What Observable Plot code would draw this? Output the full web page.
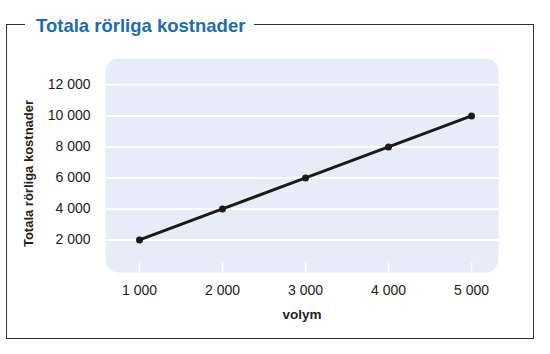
<!DOCTYPE html>
<html>
<head>
<meta charset="utf-8">
<script src="https://cdn.jsdelivr.net/npm/d3@7"></script>
<script src="https://cdn.jsdelivr.net/npm/@observablehq/plot@0.6"></script>
<style>
  html, body { margin: 0; padding: 0; background: #fff; }
  #wrap { position: relative; width: 550px; height: 354px; font-family: "Liberation Sans", Arial, sans-serif; }
  #frame { position: absolute; left: 6px; top: 24px; width: 528px; height: 315px; border: 1.5px solid #333; box-sizing: border-box; }
  #title { position: absolute; left: 25px; top: 15px; padding: 0 9px 0 11px; background: #fff; color: #1b6db3; font-weight: bold; font-size: 18.5px; line-height: 22px; }
  #chart { position: absolute; left: 0; top: 0; }
</style>
</head>
<body>
<div id="wrap">
  <div id="frame"></div>
  <div id="title">Totala rörliga kostnader</div>
  <div id="chart"></div>
</div>
<script>
const volym = [1000, 2000, 3000, 4000, 5000];
const kostnader = [2000, 4000, 6000, 8000, 10000];
const xTicks = [1000, 2000, 3000, 4000, 5000];
const yTicks = [2000, 4000, 6000, 8000, 10000, 12000];

const data = volym.map((v, i) => ({volym: v, kostnad: kostnader[i]}));
const fmt = d => d3.format(",")(d).replace(/,/g, " ");

const chart = Plot.plot({
  width: 550,
  height: 354,
  marginTop: 58,
  marginBottom: 82,
  marginLeft: 105,
  marginRight: 52,
  style: {fontFamily: "Liberation Sans, Arial, sans-serif", fontSize: "14px", color: "#222", background: "transparent"},
  x: {domain: [590, 5325]},
  y: {domain: [-100, 13700]},
  marks: [
    Plot.frame({fill: "#e8ebf8", stroke: null, rx: 13}),
    Plot.ruleY(yTicks, {stroke: "white", strokeWidth: 2}),
    Plot.ruleX(xTicks, {y1: -100, y2: 500, stroke: "white", strokeWidth: 1.5}),
    Plot.axisY(yTicks, {tickSize: 0, tickPadding: 15, tickFormat: fmt, label: null, fontSize: 14}),
    Plot.axisX(xTicks, {tickSize: 0, tickPadding: 13, tickFormat: fmt, label: null, fontSize: 14}),
    Plot.line(data, {x: "volym", y: "kostnad", stroke: "#1a1a1a", strokeWidth: 3}),
    Plot.dot(data, {x: "volym", y: "kostnad", r: 3.5, fill: "#1a1a1a"}),
    Plot.text(["volym"], {frameAnchor: "bottom", dy: 46, text: d => d, fontWeight: "bold", fontSize: 13.5}),
    Plot.text(["Totala rörliga kostnader"], {frameAnchor: "left", dx: -77, dy: 8, rotate: -90, textAnchor: "middle", text: d => d, fontWeight: "bold", fontSize: 13})
  ]
});
document.getElementById("chart").appendChild(chart);
</script>
</body>
</html>
